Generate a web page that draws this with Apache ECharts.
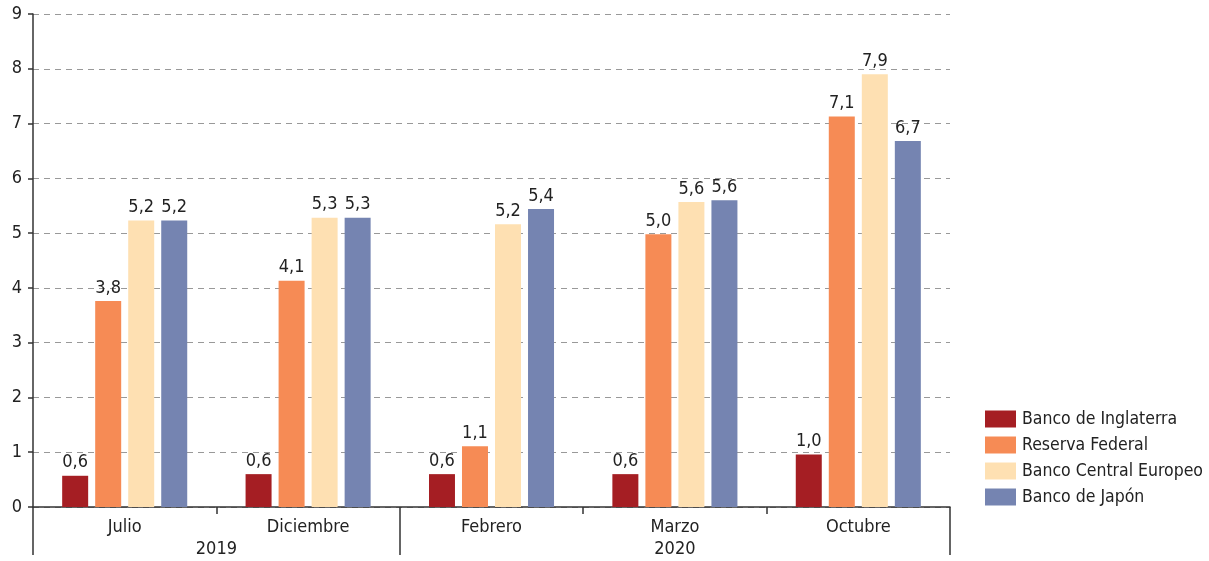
<!DOCTYPE html>
<html><head><meta charset="utf-8">
<script src="https://cdn.jsdelivr.net/npm/echarts@6/dist/echarts.min.js"></script>
<style>html,body{margin:0;padding:0;background:#fff}#c{width:1209px;height:561px}</style>
</head><body><div id="c"></div>
<script>
const months = ['Julio', 'Diciembre', 'Febrero', 'Marzo', 'Octubre'];
const yearSlots = ['', '', '2019', '', '', '', '', '2020', '', '', ''];
const seriesNames = ['Banco de Inglaterra', 'Reserva Federal', 'Banco Central Europeo', 'Banco de Japón'];
const boe = [0.57, 0.60, 0.60, 0.60, 0.96];
const fed = [3.76, 4.13, 1.11, 4.98, 7.13];
const ecb = [5.23, 5.28, 5.16, 5.57, 7.90];
const boj = [5.23, 5.28, 5.44, 5.60, 6.68];
const colors = ['#a51e23', '#f68b55', '#fee0b2', '#7584b1'];

const FONT = '"Liberation Sans Narrow", "DejaVu Sans Condensed", "Roboto", sans-serif';
const chart = echarts.init(document.getElementById('c'), null, {renderer: 'canvas'});
const fmt = p => p.value.toFixed(1).replace('.', ',');
const mk = (name, data, i) => ({
  name, type: 'bar', data, barWidth: 26, barGap: '27%',
  itemStyle: {color: colors[i]},
  label: {show: true, position: 'top', distance: 4, formatter: fmt,
          fontFamily: FONT, fontSize: 18, color: '#222'}
});
chart.setOption({
  animation: false,
  textStyle: {fontFamily: FONT},
  grid: {left: 33, right: 259, top: 14, bottom: 54, containLabel: false},
  legend: {
    orient: 'vertical', left: 980, top: 405, itemWidth: 31, itemHeight: 17, itemGap: 8,
    icon: 'rect', data: seriesNames,
    textStyle: {fontFamily: FONT, fontSize: 17.5, color: '#222', padding: [0, 0, 0, 1]}
  },
  xAxis: [
    {type: 'category', data: months, position: 'bottom',
     axisLine: {show: true, lineStyle: {color: '#333', width: 1.5}},
     axisTick: {show: true, length: 7, lineStyle: {color: '#333', width: 1.5}},
     axisLabel: {fontFamily: FONT, fontSize: 18, color: '#222', margin: 11}},
    {type: 'category', data: yearSlots, position: 'bottom', boundaryGap: false,
     axisLine: {show: false},
     axisTick: {show: true, length: 48, interval: (i) => i === 0 || i === 4 || i === 10,
                lineStyle: {color: '#333', width: 1.5}},
     axisLabel: {fontFamily: FONT, fontSize: 18, color: '#222', margin: 33, interval: 0}}
  ],
  yAxis: {
    type: 'value', min: 0, max: 9, interval: 1,
    axisLine: {show: true, lineStyle: {color: '#333', width: 1.5}},
    axisTick: {show: true, length: 5, lineStyle: {color: '#333', width: 1.5}},
    axisLabel: {fontFamily: FONT, fontSize: 18, color: '#222', margin: 11},
    splitLine: {show: true, lineStyle: {color: '#999', type: [6, 5], width: 1}}
  },
  series: [mk(seriesNames[0], boe, 0), mk(seriesNames[1], fed, 1), mk(seriesNames[2], ecb, 2), mk(seriesNames[3], boj, 3)]
});
</script></body></html>
